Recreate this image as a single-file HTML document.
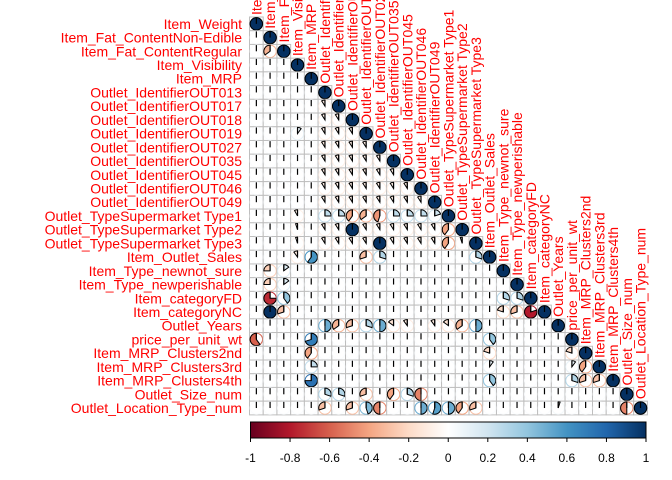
<!DOCTYPE html>
<html><head><meta charset="utf-8"><style>
html,body{margin:0;padding:0;background:#fff;width:672px;height:480px;overflow:hidden}
svg text{font-family:"Liberation Sans",Arial,sans-serif}
</style></head><body>
<svg id="chart" width="672" height="480" viewBox="0 0 672 480" xmlns="http://www.w3.org/2000/svg">
<defs><linearGradient id="grad" x1="0" x2="1" y1="0" y2="0">
<stop offset="0" stop-color="#67001F"/><stop offset="0.1" stop-color="#B2182B"/><stop offset="0.2" stop-color="#D6604D"/><stop offset="0.3" stop-color="#F4A582"/><stop offset="0.4" stop-color="#FDDBC7"/><stop offset="0.5" stop-color="#FFFFFF"/><stop offset="0.6" stop-color="#D1E5F0"/><stop offset="0.7" stop-color="#92C5DE"/><stop offset="0.8" stop-color="#4393C3"/><stop offset="0.9" stop-color="#2166AC"/><stop offset="1" stop-color="#053061"/>
</linearGradient></defs>
<g id="cells"></g><g id="labels"></g><g id="legend"></g>
</svg>
<script>
const variables = ["Item_Weight","Item_Fat_ContentNon-Edible","Item_Fat_ContentRegular","Item_Visibility","Item_MRP","Outlet_IdentifierOUT013","Outlet_IdentifierOUT017","Outlet_IdentifierOUT018","Outlet_IdentifierOUT019","Outlet_IdentifierOUT027","Outlet_IdentifierOUT035","Outlet_IdentifierOUT045","Outlet_IdentifierOUT046","Outlet_IdentifierOUT049","Outlet_TypeSupermarket Type1","Outlet_TypeSupermarket Type2","Outlet_TypeSupermarket Type3","Item_Outlet_Sales","Item_Type_newnot_sure","Item_Type_newperishable","Item_categoryFD","Item_categoryNC","Outlet_Years","price_per_unit_wt","Item_MRP_Clusters2nd","Item_MRP_Clusters3rd","Item_MRP_Clusters4th","Outlet_Size_num","Outlet_Location_Type_num"];
const pairRows = [2,8,17,17,17,17,17,18,18,19,19,20,20,20,20,21,21,21,21,21,22,22,22,22,22,22,22,22,22,22,22,23,23,23,24,24,24,25,25,25,25,26,26,26,26,26,27,27,27,27,27,27,28,28,28,28,28,28,28,28,28,28,28];
const pairCols = [1,3,3,4,8,9,16,1,2,1,2,1,2,18,19,1,2,18,19,20,5,6,7,8,9,10,11,13,14,15,16,0,4,17,4,17,23,4,17,23,24,4,17,23,24,25,5,6,8,10,11,12,5,7,8,9,12,13,14,15,16,27,22];
const pairValues = [-0.35,0.1,-0.1,0.6,-0.3,0.3,0.3,-0.25,0.15,-0.25,0.15,-0.75,0.4,0.3,0.3,1.0,-0.3,-0.2,-0.3,-0.8,0.5,-0.35,-0.3,0.3,0.5,-0.15,-0.1,-0.1,-0.15,-0.35,0.5,-0.6,0.7,0.4,-0.4,-0.2,-0.2,0.25,0.1,0.1,-0.4,0.75,0.4,0.3,-0.3,-0.3,0.3,0.3,-0.3,-0.4,0.3,-0.5,-0.3,-0.3,0.45,-0.5,0.5,0.55,0.5,-0.4,-0.3,-0.5,0.05];
const outletIdx = [5,6,7,8,9,10,11,12,13];
const tickLabels = ["-1","-0.8","-0.6","-0.4","-0.2","0","0.2","0.4","0.6","0.8","1"];
const tickValues = [-1,-0.8,-0.6,-0.4,-0.2,0,0.2,0.4,0.6,0.8,1];
const type1Row = [0,0,0,-0.08,0,0.25,0.25,-0.4,-0.35,-0.45,0.25,0.25,0.25,0.2];

const NS="http://www.w3.org/2000/svg";
const n=variables.length, x0=249.5, y0=17, cs=13.72;
const cx=j=>x0+cs*(j+0.5), cy=i=>y0+cs*(i+0.5);
const pal=["#67001F","#B2182B","#D6604D","#F4A582","#FDDBC7","#FFFFFF","#D1E5F0","#92C5DE","#4393C3","#2166AC","#053061"];
function hex(h){return [1,3,5].map(k=>parseInt(h.substr(k,2),16));}
function col(v){let t=(v+1)*5;let i=Math.min(9,Math.floor(t));let f=t-i;let a=hex(pal[i]),b=hex(pal[i+1]);
 return "rgb("+a.map((c,k)=>Math.round(c+(b[k]-c)*f)).join(",")+")";}
const M=[];for(let i=0;i<n;i++){M.push(new Array(n).fill(0.02));M[i][i]=1;}
for(let i=6;i<=16;i++){for(const j of outletIdx){if(j<i)M[i][j]=-0.09;}}
for(let j=0;j<type1Row.length;j++)M[14][j]=type1Row[j]||0.02;
M[15][7]=1;M[15][14]=-0.4;M[16][9]=1;M[16][14]=-0.4;M[16][15]=-0.05;M[15][3]=-0.05;M[16][3]=-0.05;
for(let k=0;k<pairRows.length;k++)M[pairRows[k]][pairCols[k]]=pairValues[k];

const gC=document.getElementById("cells");
function mk(tag,attrs,parent){const e=document.createElementNS(NS,tag);for(const k in attrs)e.setAttribute(k,attrs[k]);parent.appendChild(e);return e;}
const r=6.2;
for(let i=0;i<n;i++){for(let j=0;j<=i;j++){
 const v=M[i][j];const g=mk("g",{},gC);
 
 
 mk("rect",{x:x0+cs*j,y:y0+cs*i,width:cs,height:cs,fill:"#fff",stroke:"#BEBEBE","stroke-width":1},g);
 const X=cx(j),Y=cy(i),c=col(v);
 mk("circle",{cx:X,cy:Y,r:r,fill:"none",stroke:c,"stroke-width":1},g);
 const a=Math.abs(v);
 if(a>=0.999){mk("circle",{cx:X,cy:Y,r:r,fill:c,stroke:"#000","stroke-width":1},g);}
 else if(a>0.03){const ang=(v>0?1:-1)*a*2*Math.PI;const ex=X+r*Math.sin(ang),ey=Y-r*Math.cos(ang);
  const large=a>0.5?1:0,sweep=v>0?1:0;
  mk("path",{d:`M${X},${Y}L${X},${Y-r}A${r},${r} 0 ${large} ${sweep} ${ex},${ey}Z`,fill:c,stroke:"#000","stroke-width":1},g);}
 mk("line",{x1:X,y1:Y,x2:X,y2:Y-r,stroke:"#000","stroke-width":1.2},g);
}}
const gL=document.getElementById("labels");
variables.forEach((name,i)=>{
 const t=mk("text",{x:242,y:cy(i)+5,"text-anchor":"end","font-size":14,fill:"#FF0000"},gL);t.textContent=name;
 
 
 const X=cx(i)+5,Y=y0+cs*i-2;
 const u=mk("text",{x:X,y:Y,transform:`rotate(-90 ${X} ${Y})`,"font-size":14,fill:"#FF0000"},gL);u.textContent=name;
 
 
});
const gG=document.getElementById("legend");
const bx0=250.5,bx1=646;
const bar=mk("rect",{x:bx0,y:422,width:bx1-bx0,height:16,fill:"url(#grad)",stroke:"#000","stroke-width":1},gG);


tickValues.forEach((v,k)=>{const X=bx0+(v+1)/2*(bx1-bx0);
 mk("line",{x1:X,y1:438,x2:X,y2:442,stroke:"#000","stroke-width":1},gG);
 const t=mk("text",{x:X,y:462,"text-anchor":"middle","font-size":12,fill:"#000"},gG);t.textContent=tickLabels[k];
 
 
});
</script>
</body></html>
